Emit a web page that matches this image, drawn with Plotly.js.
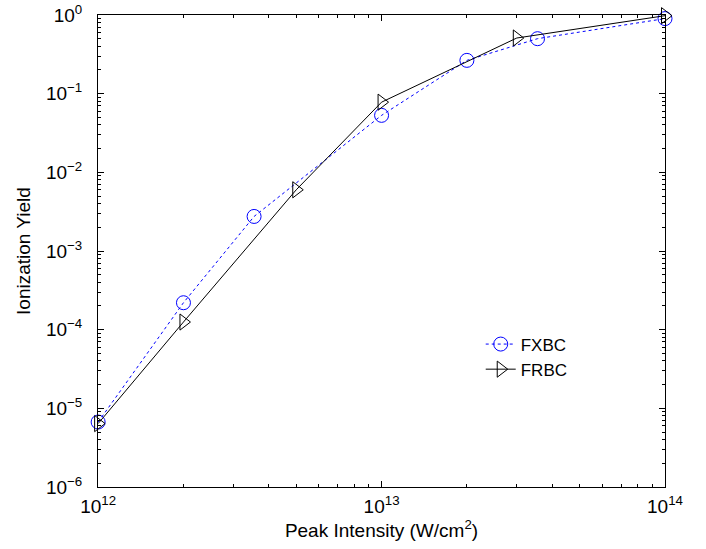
<!DOCTYPE html>
<html>
<head>
<meta charset="utf-8">
<script src="https://cdn.plot.ly/plotly-3.0.1.min.js"></script>
<style>html,body{margin:0;padding:0;background:#fff;}#chart{width:706px;height:549px;}</style>
</head>
<body>
<div id="chart"></div>
<script>
// Data
const fxbcIntensity = [1e12, 2e12, 3.55e12, 1e13, 2e13, 3.55e13, 1e14];
const fxbcYield = [6.7e-6, 2.2e-4, 2.75e-3, 0.053, 0.265, 0.50, 0.90];
const frbcIntensity = [1e12, 2e12, 5e12, 1e13, 3e13, 1e14];
const frbcYield = [6.4e-6, 1.25e-4, 6.0e-3, 0.078, 0.51, 0.98];

const xTickVals = [1e12, 1e13, 1e14];
const xTickText = ['10<sup>12</sup>', '10<sup>13</sup>', '10<sup>14</sup>'];
const yTickVals = [1e-6, 1e-5, 1e-4, 1e-3, 1e-2, 1e-1, 1];
const yTickText = ['10<sup>−6</sup>', '10<sup>−5</sup>', '10<sup>−4</sup>', '10<sup>−3</sup>', '10<sup>−2</sup>', '10<sup>−1</sup>', '10<sup>0</sup>'];

function minorVals(lo, hi) {
  const out = [];
  for (let e = lo; e < hi; e++) for (let m = 2; m <= 9; m++) out.push(m * Math.pow(10, e));
  return out;
}

const font = 'Liberation Sans, Arial, Helvetica, sans-serif';

const traces = [
  {
    x: fxbcIntensity, y: fxbcYield, name: 'FXBC', type: 'scatter', mode: 'lines+markers',
    line: {color: '#0000ff', width: 1, dash: 'dot'},
    marker: {symbol: 'circle-open', size: 14, color: '#0000ff', line: {width: 1}},
    cliponaxis: false
  },
  {
    x: frbcIntensity, y: frbcYield, name: 'FRBC', type: 'scatter', mode: 'lines+markers',
    line: {color: '#000000', width: 1},
    marker: {symbol: 'triangle-right-open', size: 14, color: '#000000', line: {width: 1}},
    cliponaxis: false
  }
];

const axisCommon = {
  type: 'log', showgrid: false, zeroline: false, showline: true, linecolor: '#000', linewidth: 1,
  mirror: 'ticks', ticks: 'inside', ticklen: 6, tickcolor: '#000',
  tickfont: {family: font, size: 19, color: '#000'}
};

const layout = {
  width: 706, height: 549,
  margin: {l: 98, r: 41, t: 15, b: 62},
  paper_bgcolor: '#fff', plot_bgcolor: '#fff',
  font: {family: font, color: '#000'},
  showlegend: true,
  legend: {x: 0.675, y: 0.34, xanchor: 'left', yanchor: 'top', bgcolor: 'rgba(0,0,0,0)',
           font: {family: font, size: 17, color: '#000'}, tracegroupgap: 0},
  xaxis: Object.assign({}, axisCommon, {
    range: [11.9995, 14], tickmode: 'array', tickvals: xTickVals, ticktext: xTickText,
    ticklabelstandoff: 2,
    minor: {tickmode: 'array', tickvals: minorVals(12, 14), ticks: 'inside', ticklen: 3, tickcolor: '#000', showgrid: false},
    title: {text: 'Peak Intensity (W/cm<sup>2</sup>)', font: {family: font, size: 19, color: '#000'}, standoff: 3}
  }),
  yaxis: Object.assign({}, axisCommon, {
    range: [-6, 0], tickmode: 'array', tickvals: yTickVals, ticktext: yTickText,
    ticklabelstandoff: 11,
    minor: {tickmode: 'array', tickvals: minorVals(-6, 0), ticks: 'inside', ticklen: 3, tickcolor: '#000', showgrid: false},
    title: {text: 'Ionization Yield', font: {family: font, size: 19, color: '#000'}, standoff: 10}
  })
};

Plotly.newPlot('chart', traces, layout, {displayModeBar: false, staticPlot: true});
</script>
</body>
</html>
